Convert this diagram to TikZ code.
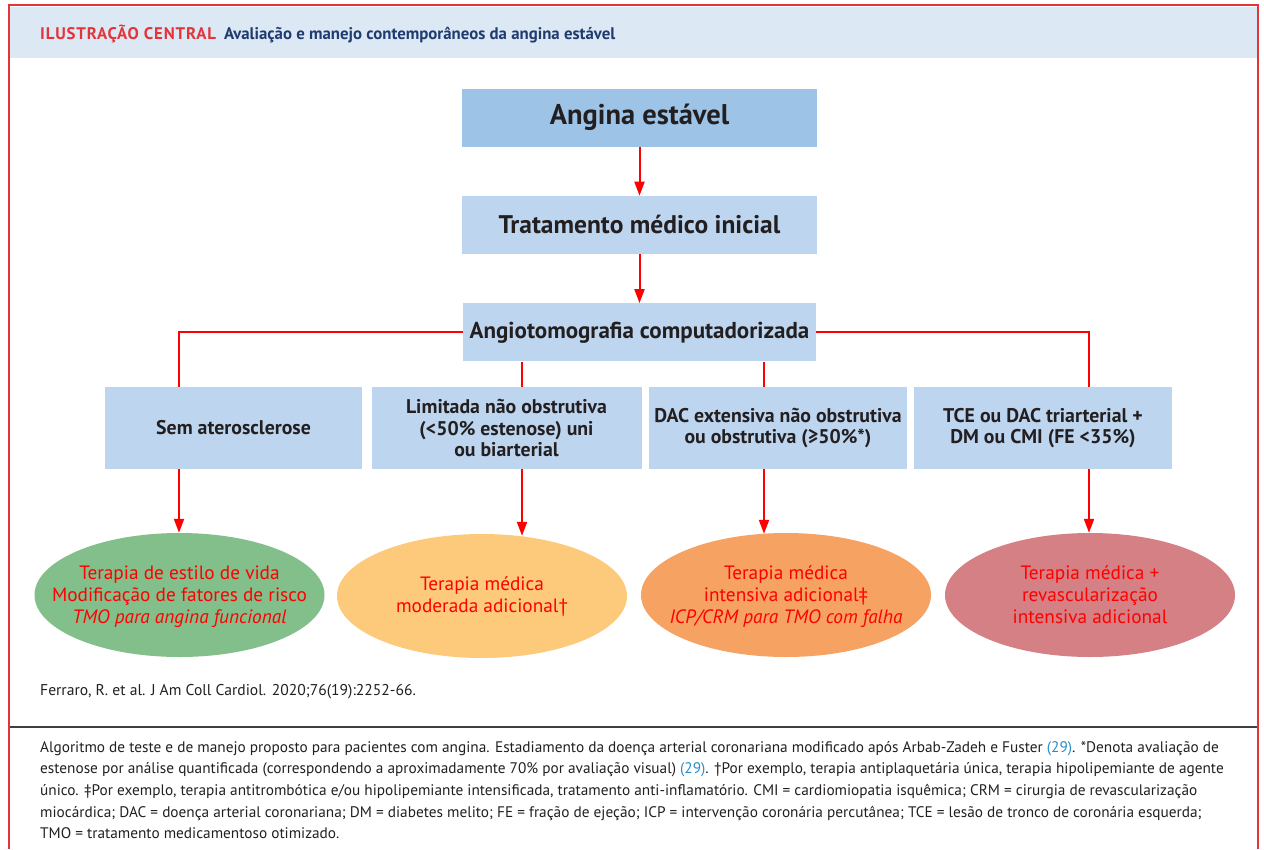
\documentclass[tikz,border=0pt]{standalone}
\usepackage{fontspec}
\setmainfont{PT Sans}
\usetikzlibrary{arrows.meta, positioning, shapes.geometric, calc}

\definecolor{framered}{HTML}{E3343A}
\definecolor{headblue}{HTML}{DCE8F4}
\definecolor{navy}{HTML}{1F3B6F}
\definecolor{topblue}{HTML}{9DC3E6}
\definecolor{boxblue}{HTML}{BDD5EE}
\definecolor{txtdark}{HTML}{231F20}
\definecolor{linkblue}{HTML}{2B8CC4}
\definecolor{arrowred}{HTML}{FF0000}
\definecolor{greenell}{HTML}{82BF8A}
\definecolor{yellowell}{HTML}{FDC97A}
\definecolor{orangeell}{HTML}{F5A263}
\definecolor{roseell}{HTML}{D48084}

\begin{document}
\begin{tikzpicture}[x=1pt, y=-1pt,
            topbox/.style={fill=boxblue, minimum width=355pt, minimum height=58pt, inner sep=0pt, text=txtdark, font=\bfseries\fontsize{25.5}{30}\selectfont},
            classbox/.style={fill=boxblue, minimum width=258pt, minimum height=82pt, inner sep=0pt, align=center, text=txtdark, font=\bfseries\fontsize{19.8}{21.5}\selectfont},
            therapy/.style={ellipse, minimum width=290pt, minimum height=124pt, inner sep=0pt},
            therapytext/.style={align=center, inner sep=0pt, text=arrowred, font=\fontsize{19.3}{22}\selectfont},
            link/.style={arrowred, line width=2pt},
            arr/.style={link, -{Triangle[length=14pt, width=10pt]}}]

            \useasboundingbox (0,0) rectangle (1264,849);

            % Header band and frame
            \fill[headblue] (10,7) rectangle (1257,58);
            \node[anchor=base west, inner sep=0pt, font=\bfseries\fontsize{16.8}{18}\selectfont] (title) at (40,39)
                {\textcolor{framered}{\addfontfeature{LetterSpace=5}ILUSTRAÇÃO CENTRAL}\hspace{8pt}\textcolor{navy}{Avaliação e manejo contemporâneos da angina estável}};
            \draw[framered, line width=2pt] (9,849) -- (9,5) -- (1258,5) -- (1258,849);

            % Main column
            \node[topbox, fill=topblue, font=\bfseries\fontsize{28.5}{32}\selectfont] (angina) at (639.5,117.5) {Angina estável};
            \node[topbox, below=49pt of angina] (inicial) {Tratamento médico inicial};
            \node[topbox, minimum width=353pt, font=\bfseries\fontsize{23}{27}\selectfont, below=49pt of inicial] (angio) {Angiotomografia computadorizada};
            \draw[arr] (angina) -- (inicial);
            \draw[arr] (inicial) -- (angio);

            % Branch columns
            \coordinate (xa) at (179,0);
            \coordinate (xb) at (522,0);
            \coordinate (xc) at (764,0);
            \coordinate (xd) at (1089,0);

            % Findings of the CT
            \node[classbox, minimum width=257pt] (sem) at (233.5,428) {Sem aterosclerose};
            \node[classbox, minimum width=270pt] (limitada) at (506.5,428) {Limitada não obstrutiva\\(<50\% estenose) uni\\ou biarterial};
            \node[classbox] (extensa) at (778,428) {DAC extensiva não obstrutiva\\ou obstrutiva (≥50\%*)};
            \node[classbox] (tce) at (1043,428) {TCE ou DAC triarterial +\\DM ou CMI (FE <35\%)};

            \draw[link] (angio.west) -| (sem.north -| xa);
            \draw[link] (angio.east) -| (tce.north -| xd);
            \draw[link] (angio.south -| xb) -- (limitada.north -| xb);
            \draw[link] (angio.south -| xc) -- (extensa.north -| xc);

            % Therapies
            \node[therapy, fill=greenell] (vida) at (179.5,595) {};
            \node[therapy, fill=yellowell] (moderada) at (482,596) {};
            \node[therapy, fill=orangeell] (intensiva) at (786,595) {};
            \node[therapy, fill=roseell] (revasc) at (1090,595) {};
            \node[therapytext] (vidatxt) at ([yshift=-2pt]vida) {Terapia de estilo de vida\\Modificação de fatores de risco\\\textit{TMO para angina funcional}};
            \node[therapytext] (moderadatxt) at (moderada) {Terapia médica\\moderada adicional†};
            \node[therapytext] (intensivatxt) at ([yshift=-2pt]intensiva) {Terapia médica\\intensiva adicional‡\\\textit{ICP/CRM para TMO com falha}};
            \node[therapytext] (revasctxt) at (revasc) {Terapia médica +\\revascularização\\intensiva adicional};

            \draw[arr] (sem.south -| xa) -- (vida.north -| xa);
            \draw[arr] (limitada.south -| xb) -- ([yshift=-2pt]moderada.north -| xb);
            \draw[arr] (extensa.south -| xc) -- ([yshift=-1pt]intensiva.north -| xc);
            \draw[arr] (tce.south -| xd) -- (revasc.north -| xd);

            % Source and legend
            \node[anchor=base west, inner sep=0pt, text=txtdark, font=\fontsize{15.6}{18}\selectfont] (fonte) at (40,695) {Ferraro, R. et al. J Am Coll Cardiol. 2020;76(19):2252-66.};
            \draw[black!75, line width=1.2pt] (10,727) -- (1257,727);
            \node[anchor=north west, inner sep=0pt, align=left, text=txtdark, font=\fontsize{15.3}{21.6}\selectfont] (legenda) at (40,741)
                {Algoritmo de teste e de manejo proposto para pacientes com angina. Estadiamento da doença arterial coronariana modificado após Arbab-Zadeh e Fuster \textcolor{linkblue}{(29)}. *Denota avaliação de\\
                 estenose por análise quantificada (correspondendo a aproximadamente 70\% por avaliação visual) \textcolor{linkblue}{(29)}. †Por exemplo, terapia antiplaquetária única, terapia hipolipemiante de agente\\
                 único. ‡Por exemplo, terapia antitrombótica e/ou hipolipemiante intensificada, tratamento anti-inflamatório. CMI = cardiomiopatia isquêmica; CRM = cirurgia de revascularização\\
                 miocárdica; DAC = doença arterial coronariana; DM = diabetes melito; FE = fração de ejeção; ICP = intervenção coronária percutânea; TCE = lesão de tronco de coronária esquerda;\\
                 TMO = tratamento medicamentoso otimizado.};
        \end{tikzpicture}
\end{document}
